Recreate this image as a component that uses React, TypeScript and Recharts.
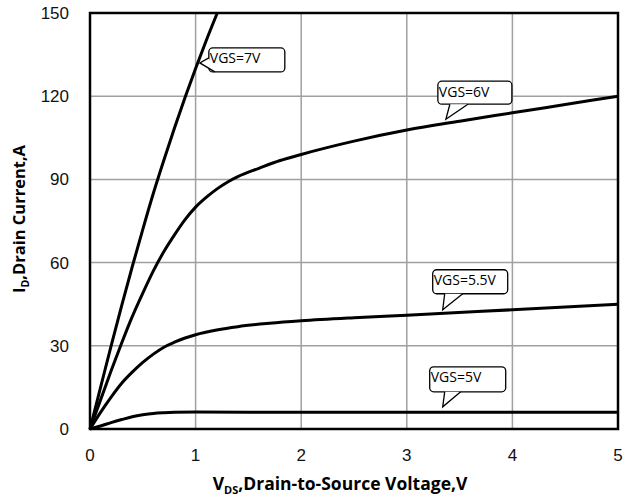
import { LineChart, Line, XAxis, YAxis, CartesianGrid, ReferenceArea, ReferenceDot } from 'recharts';

const xTicks = [0, 1, 2, 3, 4, 5];
const yTicks = [0, 30, 60, 90, 120, 150];

const vgs7 = [
  { v: 0, id: 0 }, { v: 0.1, id: 15 }, { v: 0.2, id: 30 }, { v: 0.3, id: 44.5 },
  { v: 0.4, id: 58.5 }, { v: 0.5, id: 72 }, { v: 0.6, id: 85 }, { v: 0.7, id: 97 },
  { v: 0.8, id: 108.5 }, { v: 0.9, id: 119.5 }, { v: 1.0, id: 130 }, { v: 1.1, id: 140 },
  { v: 1.205, id: 150 },
];
const vgs6 = [
  { v: 0, id: 0 }, { v: 0.1, id: 10.5 }, { v: 0.2, id: 21 }, { v: 0.3, id: 31 },
  { v: 0.4, id: 40.5 }, { v: 0.5, id: 49 }, { v: 0.6, id: 57 }, { v: 0.7, id: 64 },
  { v: 0.8, id: 70 }, { v: 0.9, id: 75.5 }, { v: 1.0, id: 80 }, { v: 1.1, id: 83.5 },
  { v: 1.2, id: 86.5 }, { v: 1.3, id: 89 }, { v: 1.4, id: 91 }, { v: 1.6, id: 94 },
  { v: 1.8, id: 96.8 }, { v: 2.0, id: 99 }, { v: 2.5, id: 103.8 }, { v: 3.0, id: 107.8 },
  { v: 3.5, id: 111 }, { v: 4.0, id: 114 }, { v: 4.5, id: 117 }, { v: 5.0, id: 120 },
];
const vgs55 = [
  { v: 0, id: 0 }, { v: 0.1, id: 6 }, { v: 0.2, id: 11.5 }, { v: 0.3, id: 16.5 },
  { v: 0.4, id: 20.5 }, { v: 0.5, id: 24 }, { v: 0.6, id: 27 }, { v: 0.7, id: 29.5 },
  { v: 0.8, id: 31.3 }, { v: 0.9, id: 32.8 }, { v: 1.0, id: 34 }, { v: 1.2, id: 35.7 },
  { v: 1.4, id: 36.9 }, { v: 1.7, id: 38.1 }, { v: 2.0, id: 39 }, { v: 2.5, id: 40.1 },
  { v: 3.0, id: 41 }, { v: 4.0, id: 43 }, { v: 5.0, id: 45 },
];
const vgs5 = [
  { v: 0, id: 0 }, { v: 0.1, id: 1.1 }, { v: 0.2, id: 2.3 }, { v: 0.3, id: 3.4 },
  { v: 0.4, id: 4.4 }, { v: 0.5, id: 5.1 }, { v: 0.6, id: 5.6 }, { v: 0.7, id: 5.85 },
  { v: 0.8, id: 6 }, { v: 1.0, id: 6.1 }, { v: 2.0, id: 6 }, { v: 3.0, id: 6 },
  { v: 4.0, id: 6 }, { v: 5.0, id: 6 },
];

const callouts = [
  { label: 'VGS=7V', v: 1.04, id: 132 },
  { label: 'VGS=6V', v: 3.37, id: 111.7 },
  { label: 'VGS=5.5V', v: 3.34, id: 43 },
  { label: 'VGS=5V', v: 3.34, id: 8 },
];

// box offset from the tail tip, plus the two base points of the tail
const bubbleShapes = [
  { dx: 9, dy: -15, w: 76, h: 24, b1: [9, -5], b2: [15, 9] },
  { dx: -8, dy: -38, w: 74, h: 23, b1: [4, -15], b2: [22, -15] },
  { dx: -10, dy: -40, w: 75, h: 24, b1: [2, -16], b2: [20, -16] },
  { dx: -13, dy: -40, w: 76, h: 25, b1: [2, -15], b2: [18, -15] },
];

const Bubble = (props: any) => {
  const { cx, cy, index } = props;
  const s = bubbleShapes[index];
  const bx = cx + s.dx;
  const by = cy + s.dy;
  const p1 = [cx + s.b1[0], cy + s.b1[1]];
  const p2 = [cx + s.b2[0], cy + s.b2[1]];
  return (
    <g>
      <rect x={bx} y={by} width={s.w} height={s.h} rx={4} ry={4} fill="#fff" stroke="#000" strokeWidth={1.3} />
      <polygon points={`${p1[0]},${p1[1]} ${cx},${cy} ${p2[0]},${p2[1]}`} fill="#fff" stroke="none" />
      <polyline points={`${p1[0]},${p1[1]} ${cx},${cy} ${p2[0]},${p2[1]}`} fill="none" stroke="#000" strokeWidth={1.3} />
      <text x={bx + 1} y={by + 15.5} fontFamily="'Open Sans', sans-serif" fontSize={14} fill="#000">
        {callouts[index].label}
      </text>
    </g>
  );
};

const XTitle = (props: any) => {
  const { viewBox } = props;
  const x = viewBox.x + viewBox.width / 2 - 14;
  return (
    <text x={x} y={viewBox.y + 61} textAnchor="middle" fontFamily="'Open Sans', sans-serif" fontWeight={700} fontSize={17.5} fill="#000">
      V<tspan fontSize={11} dy={4}>DS</tspan><tspan dy={-4}>,Drain-to-Source Voltage,V</tspan>
    </text>
  );
};

const YTitle = () => {
  const x = 25;
  const y = 219;
  return (
    <text x={x} y={y} transform={`rotate(-90 ${x} ${y})`} textAnchor="middle" fontFamily="'Open Sans', sans-serif" fontWeight={700} fontSize={16.5} fill="#000">
      I<tspan fontSize={10.5} dy={4}>D</tspan><tspan dy={-4}>,Drain Current,A</tspan>
    </text>
  );
};

const tickStyle = { fontFamily: "'Liberation Sans', Arial, sans-serif", fontSize: 17, fill: '#111' };

export default function App() {
  return (
    <div style={{ position: 'absolute', left: 0, top: 0, background: '#fff' }}>
      <LineChart width={625} height={499} margin={{ top: 13, right: 7, bottom: 40, left: 30 }}>
        <CartesianGrid stroke="#a0a0a0" strokeWidth={1.5} />
        <XAxis
          type="number"
          dataKey="v"
          domain={[0, 5]}
          ticks={xTicks}
          height={30}
          axisLine={false}
          tickLine={false}
          tickSize={0}
          tickMargin={20}
          tick={tickStyle}
          label={<XTitle />}
        />
        <YAxis
          type="number"
          dataKey="id"
          domain={[0, 150]}
          ticks={yTicks}
          width={60}
          axisLine={false}
          tickLine={false}
          tickSize={0}
          tickMargin={21}
          tick={tickStyle}
          label={<YTitle />}
        />
        <ReferenceArea x1={0} x2={5} y1={0} y2={150} fill="none" stroke="#000" strokeWidth={2.5} />
        <Line data={vgs7} dataKey="id" type="monotone" stroke="#000" strokeWidth={3} dot={false} isAnimationActive={false} />
        <Line data={vgs6} dataKey="id" type="monotone" stroke="#000" strokeWidth={3} dot={false} isAnimationActive={false} />
        <Line data={vgs55} dataKey="id" type="monotone" stroke="#000" strokeWidth={3} dot={false} isAnimationActive={false} />
        <Line data={vgs5} dataKey="id" type="monotone" stroke="#000" strokeWidth={3} dot={false} isAnimationActive={false} />
        {callouts.map((c, i) => (
          <ReferenceDot key={c.label} x={c.v} y={c.id} r={0} shape={(p: any) => <Bubble {...p} index={i} />} />
        ))}
      </LineChart>
    </div>
  );
}
